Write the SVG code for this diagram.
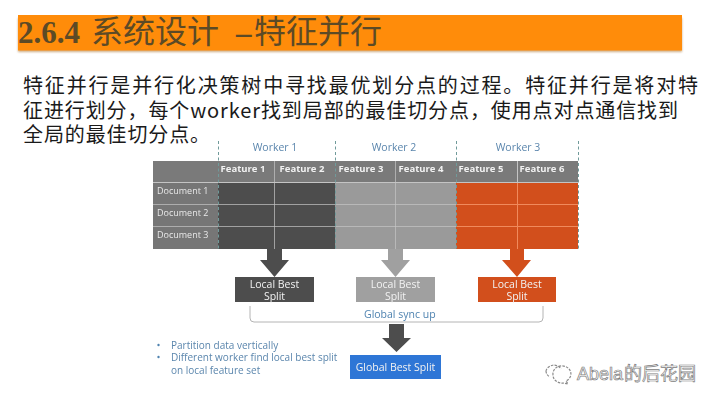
<svg xmlns="http://www.w3.org/2000/svg" width="720" height="405" viewBox="0 0 720 405">
<defs>
<filter id="shadow" x="-2%" y="-20%" width="104%" height="150%"><feGaussianBlur stdDeviation="1.2"/></filter>
<filter id="soft" x="-5%" y="-5%" width="110%" height="110%"><feGaussianBlur stdDeviation="0.35"/></filter>
</defs>
<style>
.cjk{font-family:"Noto Sans CJK SC","Noto Sans",sans-serif}
.body{font-size:20px;fill:#1a1a1a}
.ui{font-family:"Open Sans","Noto Sans",sans-serif}
.soft{filter:url(#soft)}
.worker{font-size:10.5px;fill:#5b86ad;text-anchor:middle}
.feat{font-size:9.5px;font-weight:700;fill:#f2f2f2;text-anchor:middle}
.doc{font-size:9px;fill:#e8e8e8}
.box{font-size:10.5px;fill:#f2f2f2;text-anchor:middle}
.note{font-size:10px;fill:#5b86ad}
.div{stroke:#6f9a9a;stroke-width:1;stroke-dasharray:3 2.5;fill:none}
.grid{stroke:#c4c4c4;stroke-width:1;fill:none}
.gridO{stroke:#f08a5c;stroke-width:1;fill:none}
</style>
<rect width="720" height="405" fill="#ffffff"/>
<g id="title">
<rect x="18" y="18" width="664" height="34" fill="#b98a50" opacity="0.7" filter="url(#shadow)"/>
<rect x="18" y="15" width="664" height="35.500" fill="#ff8c0a"/>
<text x="18" y="43" font-family="'Liberation Serif',serif" font-weight="700" font-size="31" fill="#5c4a26">2.6.4</text>
<text x="91" y="43" class="cjk" font-size="32" fill="#5c4a26">系统设计</text>
<text x="236" y="43" font-family="'Liberation Serif',serif" font-weight="700" font-size="31" fill="#5c4a26">–</text>
<text x="254" y="43" class="cjk" font-size="32" fill="#5c4a26">特征并行</text>
</g>
<g id="description" class="cjk body">
<text x="23" y="92.500" textLength="675" lengthAdjust="spacing">特征并行是并行化决策树中寻找最优划分点的过程。特征并行是将对特</text>
<text x="23" y="117.500" textLength="655">征进行划分，每个worker找到局部的最佳切分点，使用点对点通信找到</text>
<text x="23" y="142" textLength="187">全局的最佳切分点。</text>
</g>
<g id="table" class="soft">
<rect x="153" y="161" width="425" height="21" fill="#7a7a7a"/>
<rect x="153" y="183" width="65" height="66" fill="#767676"/>
<rect x="218" y="183" width="117" height="66" fill="#4d4d4d"/>
<rect x="335" y="183" width="121" height="66" fill="#9a9a9a"/>
<rect x="456" y="183" width="122" height="66" fill="#d2501e"/>
<path class="grid" d="M153 182.500H578"/>
<path class="grid" stroke-opacity="0.7" d="M153 204.500H456M153 226.500H456M274.500 161V249M395.500 161V249"/>
<path class="gridO" d="M456 204.500H578M456 226.500H578M517.500 183V249"/>
<path class="grid" d="M517.500 161V183"/>
<path class="div" d="M218.500 141V249M335.500 141V249M456.500 141V249M578.500 141V249"/>
<g class="ui worker">
<text x="275" y="151">Worker 1</text>
<text x="394" y="151">Worker 2</text>
<text x="518" y="151">Worker 3</text>
</g>
<g class="ui feat">
<text x="243" y="172">Feature 1</text>
<text x="302" y="172">Feature 2</text>
<text x="361" y="172">Feature 3</text>
<text x="421" y="172">Feature 4</text>
<text x="481" y="172">Feature 5</text>
<text x="542" y="172">Feature 6</text>
</g>
<g class="ui doc">
<text x="157" y="194">Document 1</text>
<text x="157" y="216">Document 2</text>
<text x="157" y="238">Document 3</text>
</g>
</g>
<g id="connectors" class="soft">
<path fill="#4d4d4d" d="M267 249H282V260H289L274.500 277L260 260H267Z"/>
<path fill="#a0a0a0" d="M388 249H403V260H410L395.500 277L381 260H388Z"/>
<path fill="#d2501e" d="M510 249H524V260H531L517 277L502 260H510Z"/>
<path fill="#4d4d4d" d="M389 324H404V338H411L396.500 352L382 338H389Z"/>
<path fill="none" stroke="#b4b4b4" stroke-width="1" d="M250 306V318Q250 322 254 322H539Q543 322 543 318V306"/>
</g>
<g id="local1" class="soft">
<rect x="235" y="277" width="79" height="25" fill="#4d4d4d"/>
<text class="ui box" x="274.500" y="287.500">Local Best</text>
<text class="ui box" x="274.500" y="300">Split</text>
</g>
<g id="local2" class="soft">
<rect x="356" y="277" width="79" height="25" fill="#a0a0a0"/>
<text class="ui box" x="395.500" y="287.500">Local Best</text>
<text class="ui box" x="395.500" y="300">Split</text>
</g>
<g id="local3" class="soft">
<rect x="478" y="277" width="78" height="25" fill="#d2501e"/>
<text class="ui box" x="517" y="287.500">Local Best</text>
<text class="ui box" x="517" y="300">Split</text>
</g>
<g id="sync" class="soft">
<text class="ui" x="364" y="317.500" font-size="10.500" fill="#4f83b0">Global sync up</text>
</g>
<g id="notes" class="ui note soft">
<circle cx="158.500" cy="345" r="1.200" fill="#4f83b0"/>
<circle cx="158.500" cy="357" r="1.200" fill="#4f83b0"/>
<text x="171" y="349">Partition data vertically</text>
<text x="171" y="361">Different worker find local best split</text>
<text x="171" y="374">on local feature set</text>
</g>
<g id="global" class="soft">
<rect x="350" y="355" width="91" height="24" fill="#2f76d6"/>
<text class="ui" x="395.500" y="371" font-size="10.500" fill="#f2f2f2" text-anchor="middle">Global Best Split</text>
</g>
<g id="watermark">
<path fill="none" stroke="#8a8a8a" stroke-width="1.200" stroke-dasharray="2.500 1.200" d="M546 371a8 7 0 0 1 15 -2M553 375a9 8 0 1 1 13 6l2 3l-5 -1a9 8 0 0 1 -10 -8M546 371a8 7 0 0 0 4 6"/>
<text x="577" y="380" font-family="'Liberation Sans','Noto Sans CJK SC',sans-serif" font-size="18" fill="#ffffff" stroke="#808080" stroke-width="0.700">Abela</text>
<text x="624" y="380" class="cjk" font-size="18" fill="#ffffff" stroke="#808080" stroke-width="0.700">的后花园</text>
</g>
</svg>
